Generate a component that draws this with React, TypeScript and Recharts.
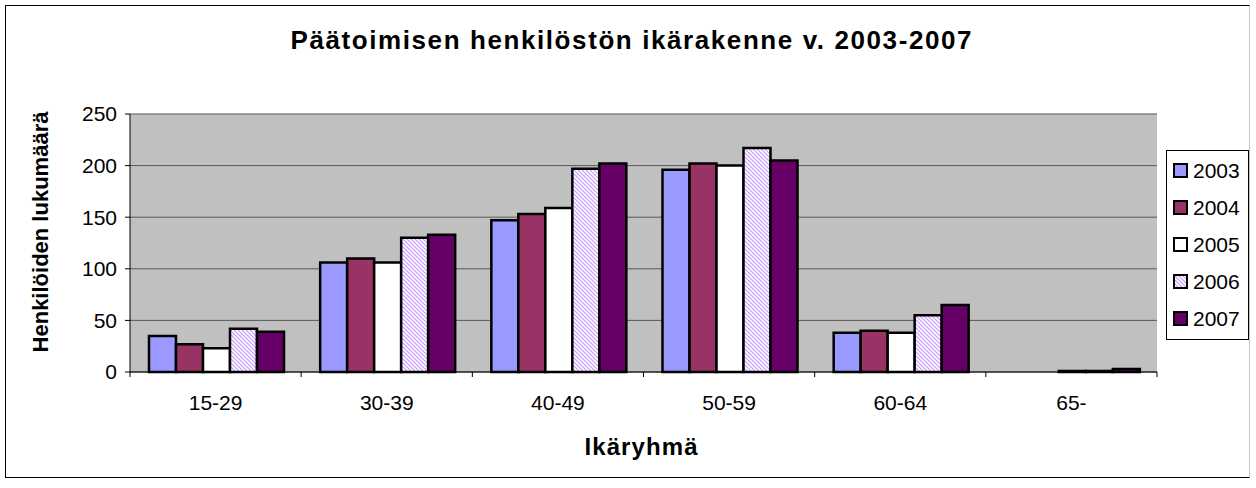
import { BarChart, Bar, XAxis, YAxis, CartesianGrid } from "recharts";

const CATEGORIES = ["15-29", "30-39", "40-49", "50-59", "60-64", "65-"];
const Y2003 = [35, 106, 147, 196, 38, 0];
const Y2004 = [27, 110, 153, 202, 40, 0];
const Y2005 = [23, 106, 159, 200, 38, 1];
const Y2006 = [42, 130, 197, 217, 55, 1];
const Y2007 = [39, 133, 202, 205, 65, 3];
const Y_TICKS = [0, 50, 100, 150, 200, 250];

const TITLE = "Päätoimisen henkilöstön ikärakenne v. 2003-2007";
const X_TITLE = "Ikäryhmä";
const Y_TITLE = "Henkilöiden lukumäärä";

const SERIES = [
  { key: "y2003", name: "2003", values: Y2003, fill: "#9999FF" },
  { key: "y2004", name: "2004", values: Y2004, fill: "#993366" },
  { key: "y2005", name: "2005", values: Y2005, fill: "#FFFFFF" },
  { key: "y2006", name: "2006", values: Y2006, fill: "url(#hatch2006)" },
  { key: "y2007", name: "2007", values: Y2007, fill: "#660066" },
];

const data = CATEGORIES.map((c, i) => {
  const row: Record<string, string | number> = { group: c };
  SERIES.forEach((s) => (row[s.key] = s.values[i]));
  return row;
});

const FONT = '"Liberation Sans", Arial, sans-serif';
const W = 1256;
const H = 488;
const PLOT_LEFT = 130;
const PLOT_RIGHT = 1157;
const TICK_GAP = 23;

// category axis in the original has its ticks between groups
function XTick(props: any) {
  const { x, y, payload, index } = props;
  const half = payload?.offset || (PLOT_RIGHT - PLOT_LEFT) / CATEGORIES.length / 2;
  const axisY = y - TICK_GAP;
  return (
    <g>
      <line x1={x - half} x2={x - half} y1={axisY} y2={axisY + 5} stroke="#000" />
      {index === CATEGORIES.length - 1 && (
        <line x1={x + half} x2={x + half} y1={axisY} y2={axisY + 5} stroke="#000" />
      )}
      <text x={x} y={y} dy="0.71em" textAnchor="middle" fontSize={21} fontFamily={FONT} fill="#000">
        {payload.value}
      </text>
    </g>
  );
}

function LegendBox() {
  return (
    <div
      style={{
        position: "absolute",
        left: 1166,
        top: 150,
        width: 83,
        height: 190,
        border: "1px solid #000",
        background: "#fff",
        boxSizing: "border-box",
        paddingTop: 1,
        fontFamily: FONT,
        fontSize: 21,
      }}
    >
      {SERIES.map((s) => (
        <div key={s.key} style={{ height: 37, display: "flex", alignItems: "center" }}>
          <svg width={15} height={15} style={{ marginLeft: 6, marginRight: 5 }}>
            <rect x={1} y={1} width={13} height={13} fill={s.fill} stroke="#000" strokeWidth={2} />
          </svg>
          <span>{s.name}</span>
        </div>
      ))}
    </div>
  );
}

export default function App() {
  return (
    <div style={{ position: "absolute", left: 0, top: 0, width: W, height: H, background: "#fff" }}>
      <svg width={0} height={0} style={{ position: "absolute" }}>
        <defs>
          <pattern id="hatch2006" width={4} height={4} patternUnits="userSpaceOnUse">
            <rect width={4} height={4} fill="#fff" />
            <path d="M-1,-1 L5,5 M-1,3 L1,5 M3,-1 L5,1" stroke="#CC99FF" strokeWidth={1.2} />
          </pattern>
        </defs>
      </svg>
      <div
        style={{
          position: "absolute",
          left: 5,
          top: 5,
          width: 1245,
          height: 473,
          borderTop: "1px solid #000",
          borderLeft: "1px solid #000",
          borderBottom: "1px solid #000",
          borderRight: "1px solid #c8c8c8",
          boxSizing: "border-box",
        }}
      />
      <div style={{ position: "absolute", left: 0, top: 0 }}>
        <BarChart
          width={W}
          height={H}
          data={data}
          margin={{ top: 114, right: W - PLOT_RIGHT, bottom: 86, left: 70 }}
          barCategoryGap={19}
          barGap={0}
        >
          <CartesianGrid vertical={false} stroke="#595959" fill="#C0C0C0" />
          <XAxis
            dataKey="group"
            height={30}
            tickSize={0}
            tickMargin={TICK_GAP}
            tick={<XTick />}
            axisLine={{ stroke: "#000", strokeWidth: 1 }}
            interval={0}
          />
          <YAxis
            width={60}
            domain={[0, 250]}
            ticks={Y_TICKS}
            tickSize={5}
            tickMargin={8}
            axisLine={{ stroke: "#000" }}
            tickLine={{ stroke: "#000" }}
            tick={{ fontSize: 21, fontFamily: FONT, fill: "#000" }}
          />
          <YAxis
            yAxisId="frame"
            orientation="right"
            width={0}
            tick={false}
            tickLine={false}
            axisLine={{ stroke: "#808080" }}
          />
          {SERIES.map((s) => (
            <Bar
              key={s.key}
              dataKey={s.key}
              name={s.name}
              fill={s.fill}
              stroke="#000"
              strokeWidth={2.5}
              isAnimationActive={false}
            />
          ))}
        </BarChart>
      </div>
      <svg width={W} height={H} style={{ position: "absolute", left: 0, top: 0, pointerEvents: "none" }}>
        <text
          x={631}
          y={49}
          textAnchor="middle"
          fontFamily={FONT}
          fontWeight="bold"
          fontSize={26}
          textLength={681}
          lengthAdjust="spacing"
        >
          {TITLE}
        </text>
        <text
          x={641}
          y={455}
          textAnchor="middle"
          fontFamily={FONT}
          fontWeight="bold"
          fontSize={24}
          textLength={113}
          lengthAdjust="spacing"
        >
          {X_TITLE}
        </text>
        <text
          x={40}
          y={232}
          dy="0.35em"
          textAnchor="middle"
          fontFamily={FONT}
          fontWeight="bold"
          fontSize={22}
          transform="rotate(-90 40 232)"
        >
          {Y_TITLE}
        </text>
      </svg>
      <LegendBox />
    </div>
  );
}
